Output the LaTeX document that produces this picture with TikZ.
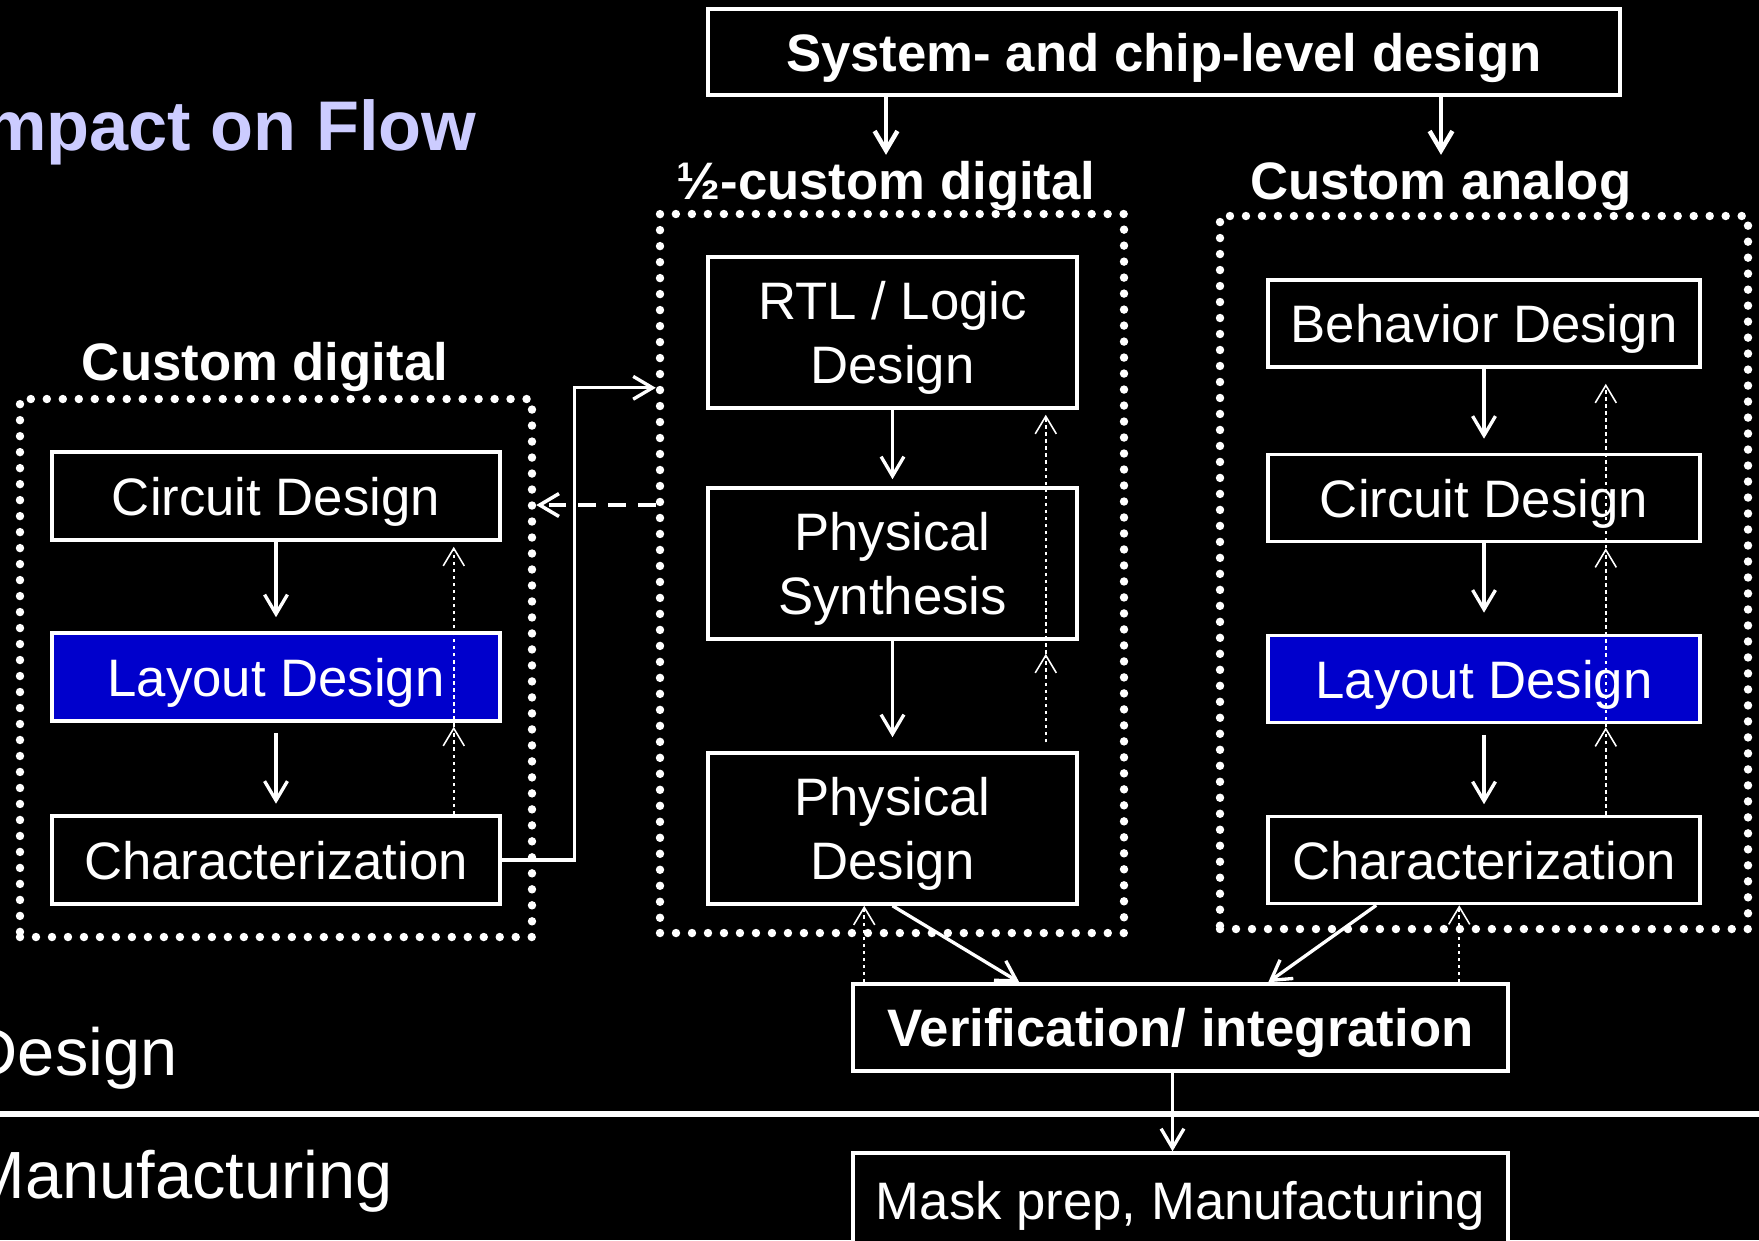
\documentclass[tikz,border=0pt]{standalone}
\usepackage{fontspec}
\setmainfont{Liberation Sans}
\usetikzlibrary{arrows.meta,positioning,calc}
\definecolor{slideblue}{RGB}{0,0,204}
\definecolor{titlelav}{RGB}{204,204,255}

\begin{document}
\begin{tikzpicture}[
    text=white, font=\fontsize{15}{18.2}\selectfont,
    box/.style={draw=white, line width=1pt, fill=black, align=center, inner sep=0pt, text depth=0pt},
    dbox/.style={box, minimum width=4.48cm, minimum height=0.88cm},
    hbox/.style={box, minimum width=3.69cm, minimum height=1.51cm},
    abox/.style={box, minimum width=4.32cm, minimum height=0.87cm},
    frame/.style={draw=white, line width=2.4pt, dash pattern=on 0pt off 4.55pt, line cap=round, inner sep=0pt},
    head/.style={anchor=base, inner sep=1.5pt, font=\fontsize{15}{18.2}\selectfont\bfseries},
    side/.style={anchor=base west, inner sep=0pt, font=\fontsize{19}{23}\selectfont},
    arr/.style={draw=white, line width=0.95pt, -{Straight Barb[length=5.5pt,width=6.5pt]}},
    fb/.style={draw=white, line width=0.45pt, dash pattern=on 1pt off 1pt, -{Straight Barb[length=5pt,width=6pt]}},
    dasharr/.style={draw=white, line width=1pt, dash pattern=on 5pt off 3.5pt, -{Straight Barb[length=5.5pt,width=6.5pt]}}
]
    \useasboundingbox (0,0) rectangle (17.59,-12.40);
    \clip (0,0) rectangle (17.59,-12.40);
    \fill[black] (0,0) rectangle (17.59,-12.40);

    % Title and left labels
    \node[anchor=base east, inner sep=0pt, text=titlelav, font=\fontsize{20}{24}\selectfont\bfseries] (title) at (4.77,-1.50) {Impact on Flow};
    \node[side] (designlab) at (-0.31,-10.75) {Design};
    \node[side] (manulab) at (-0.31,-11.98) {Manufacturing};
    \draw[white, line width=1.7pt] (0,-11.14) -- (17.59,-11.14);

    % Top level
    \node[box, minimum width=9.12cm, minimum height=0.86cm, font=\fontsize{15}{18.2}\selectfont\bfseries] (sys) at (11.64,-0.52) {System- and chip-level design};
    \node[head] (hclab) at (8.86,-1.99) {½-custom digital};
    \node[head] (calab) at (14.41,-1.99) {Custom analog};
    \node[head] (cdlab) at (2.65,-3.80) {Custom digital};

    % Dotted frames
    \node[frame, minimum width=5.12cm, minimum height=5.38cm] (cdframe) at (2.76,-6.68) {};
    \node[frame, minimum width=4.64cm, minimum height=7.19cm] (hcframe) at (8.92,-5.735) {};
    \node[frame, minimum width=5.28cm, minimum height=7.13cm] (caframe) at (14.84,-5.725) {};

    % Custom digital
    \node[dbox] (cdcirc) at (2.76,-4.96) {Circuit Design};
    \node[dbox, fill=slideblue] (cdlay) at (2.76,-6.77) {Layout Design};
    \node[dbox] (cdchar) at (2.76,-8.60) {Characterization};

    % Half-custom digital
    \node[hbox] (rtl) at (8.925,-3.325) {RTL / Logic\\Design};
    \node[hbox] (psyn) at (8.925,-5.635) {Physical\\Synthesis};
    \node[hbox] (pdes) at (8.925,-8.285) {Physical\\Design};

    % Custom analog
    \node[abox] (acbeh) at (14.84,-3.235) {Behavior Design};
    \node[abox] (accirc) at (14.84,-4.98) {Circuit Design};
    \node[abox, fill=slideblue] (aclay) at (14.84,-6.79) {Layout Design};
    \node[abox] (acchar) at (14.84,-8.60) {Characterization};

    % Bottom
    \node[box, minimum width=6.55cm, minimum height=0.87cm, font=\fontsize{15}{18.2}\selectfont\bfseries] (verif) at (11.805,-10.275) {Verification/ integration};
    \node[box, minimum width=6.55cm, minimum height=0.95cm] (mask) at (11.805,-12.005) {Mask prep, Manufacturing};

    % Forward arrows
    \draw[arr, line width=1.3pt] (sys.south -| hclab) -- (hclab.north);
    \draw[arr, line width=1.3pt] (sys.south -| calab) -- (calab.north);
    \draw[arr, shorten >=2pt] (rtl) -- (psyn);
    \draw[arr, shorten >=4pt] (psyn) -- (pdes);
    \draw[arr, shorten >=4pt] (cdcirc) -- (cdlay);
    \draw[arr, shorten <=3pt, shorten >=3pt] (cdlay) -- (cdchar);
    \draw[arr, shorten >=4pt] (acbeh) -- (accirc);
    \draw[arr, shorten >=6pt] (accirc) -- (aclay);
    \draw[arr, shorten <=3pt, shorten >=3pt] (aclay) -- (acchar);
    \draw[arr] (pdes.south) -- ($(verif.north west)+(1.68,0)$);
    \draw[arr] ($(acchar.south west)+(1.10,0)$) -- ($(verif.north west)+(4.17,0)$);
    \draw[arr] ($(verif.south)+(-0.08,0)$) -- ($(mask.north)+(-0.08,0)$);
    \draw[arr] (cdchar.east) -- ++(0.73,0) |- ($(hcframe.north west)+(0,-1.78)$);
    \draw[dasharr] ($(hcframe.west |- cdcirc.east)+(0,-0.09)$) -- ($(cdframe.east |- cdcirc.east)+(0,-0.09)$);

    % Feedback (dotted)
    \draw[fb] ($(cdchar.north east)+(-0.48,0)$) -- ($(cdlay.south east)+(-0.48,-0.04)$);
    \draw[fb] ($(cdlay.south east)+(-0.48,-0.04)$) -- ($(cdcirc.south east)+(-0.48,-0.05)$);
    \draw[fb] ($(pdes.north east)+(-0.33,0.09)$) -- ($(psyn.south east)+(-0.33,-0.13)$);
    \draw[fb] ($(psyn.south east)+(-0.33,-0.13)$) -- ($(rtl.south east)+(-0.33,-0.05)$);
    \draw[fb] ($(acchar.north east)+(-0.96,0)$) -- ($(aclay.south east)+(-0.96,-0.03)$);
    \draw[fb] ($(aclay.south east)+(-0.96,-0.03)$) -- ($(accirc.south east)+(-0.96,-0.05)$);
    \draw[fb] ($(accirc.south east)+(-0.96,-0.05)$) -- ($(acbeh.south east)+(-0.96,-0.15)$);
    \draw[fb] ($(verif.north west)+(0.13,0)$) -- ($(verif.north west |- pdes.south)+(0.13,0)$);
    \draw[fb] ($(verif.north west)+(6.08,0)$) -- ($(verif.north west |- acchar.south)+(6.08,0)$);
\end{tikzpicture}
\end{document}
